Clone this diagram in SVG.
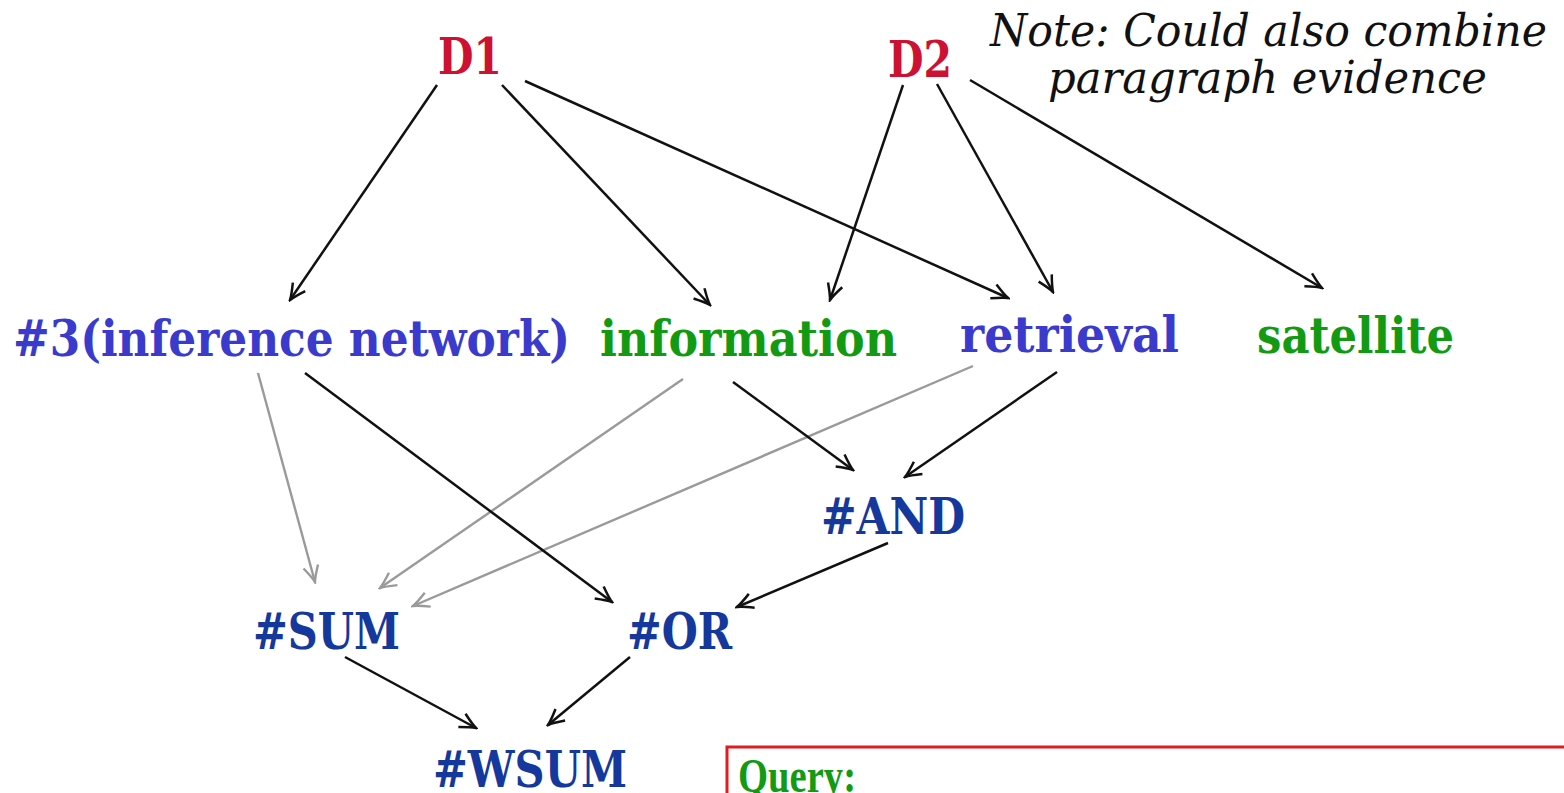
<svg xmlns="http://www.w3.org/2000/svg" width="1564" height="793" viewBox="0 0 1564 793">
<defs>
<style>
.lbl{font-family:"DejaVu Serif","Liberation Serif",serif;font-weight:bold;font-size:50px}
.doc{fill:#cc1133}
.term{fill:#3a3acc}
.green{fill:#139a13}
.op{fill:#15389c}
.note{font-family:"DejaVu Serif","Liberation Serif",serif;font-style:italic;font-size:44px;fill:#111}
.e{stroke:#111;stroke-width:2.5;fill:none;marker-end:url(#ah)}
.g{stroke:#9a9a9a;stroke-width:2.4;fill:none;marker-end:url(#ahg)}
</style>
<marker id="ah" viewBox="-18 -10 20 20" refX="0" refY="0" markerWidth="20" markerHeight="20" markerUnits="userSpaceOnUse" orient="auto">
<path d="M -16 -7.5 Q -5 -1.5 0 0 Q -5 1.5 -16 7.5" stroke="#111" stroke-width="2.5" fill="none"/>
</marker>
<marker id="ahg" viewBox="-18 -10 20 20" refX="0" refY="0" markerWidth="20" markerHeight="20" markerUnits="userSpaceOnUse" orient="auto">
<path d="M -16 -7.5 Q -5 -1.5 0 0 Q -5 1.5 -16 7.5" stroke="#9a9a9a" stroke-width="2.4" fill="none"/>
</marker>
</defs>
<rect width="1564" height="793" fill="#ffffff"/>
<g id="connectors">
<line class="e" x1="437" y1="85" x2="290" y2="300"/>
<line class="e" x1="502" y1="85" x2="710" y2="305"/>
<line class="e" x1="525" y1="81" x2="1008" y2="298"/>
<line class="e" x1="903" y1="85" x2="830" y2="300"/>
<line class="e" x1="937" y1="84" x2="1053" y2="292"/>
<line class="e" x1="970" y1="80" x2="1322" y2="288"/>
<line class="g" x1="258" y1="373" x2="315" y2="582"/>
<line class="g" x1="683" y1="379" x2="380" y2="588"/>
<line class="g" x1="973" y1="366" x2="413" y2="606"/>
<line class="e" x1="305" y1="373" x2="612" y2="602"/>
<line class="e" x1="733" y1="382" x2="853" y2="470"/>
<line class="e" x1="1057" y1="372" x2="905" y2="477"/>
<line class="e" x1="888" y1="543" x2="737" y2="607"/>
<line class="e" x1="345" y1="657" x2="476" y2="728"/>
<line class="e" x1="630" y1="657" x2="548" y2="725"/>
</g>
<g id="D1"><text class="lbl doc" x="438" y="74" textLength="64" lengthAdjust="spacingAndGlyphs">D1</text></g>
<g id="D2"><text class="lbl doc" x="888" y="77" textLength="64" lengthAdjust="spacingAndGlyphs">D2</text></g>
<g id="note">
<text class="note" x="990" y="46" textLength="557" lengthAdjust="spacingAndGlyphs">Note: Could also combine</text>
<text class="note" x="1048" y="93" textLength="439" lengthAdjust="spacingAndGlyphs">paragraph evidence</text>
</g>
<g id="n3"><text class="lbl term" x="13" y="356" textLength="557" lengthAdjust="spacingAndGlyphs">#3(inference network)</text></g>
<g id="information"><text class="lbl green" x="600" y="356" textLength="297" lengthAdjust="spacingAndGlyphs">information</text></g>
<g id="retrieval"><text class="lbl term" x="960" y="352" textLength="219" lengthAdjust="spacingAndGlyphs">retrieval</text></g>
<g id="satellite"><text class="lbl green" x="1257" y="353" textLength="197" lengthAdjust="spacingAndGlyphs">satellite</text></g>
<g id="AND"><text class="lbl op" x="821" y="534" textLength="144" lengthAdjust="spacingAndGlyphs">#AND</text></g>
<g id="SUM"><text class="lbl op" x="253" y="649" textLength="147" lengthAdjust="spacingAndGlyphs">#SUM</text></g>
<g id="OR"><text class="lbl op" x="627" y="649" textLength="105" lengthAdjust="spacingAndGlyphs">#OR</text></g>
<g id="WSUM"><text class="lbl op" x="433" y="787" textLength="194" lengthAdjust="spacingAndGlyphs">#WSUM</text></g>
<g id="query">
<rect x="727" y="747" width="900" height="100" fill="none" stroke="#e21a22" stroke-width="3"/>
<text x="738" y="792" font-family="Liberation Serif, DejaVu Serif, serif" font-weight="bold" font-size="48" fill="#139a13" textLength="118" lengthAdjust="spacingAndGlyphs">Query:</text>
</g>
</svg>
